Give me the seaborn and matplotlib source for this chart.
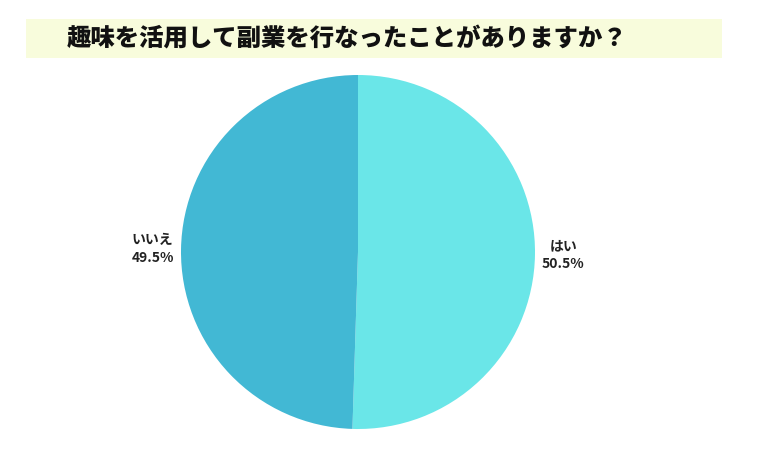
import matplotlib
matplotlib.use("Agg")
import matplotlib.pyplot as plt
import seaborn as sns
from matplotlib.patches import Rectangle

categories = ["はい", "いいえ"]
values = [50.5, 49.5]
colors = ["#6ae6e8", "#42b8d4"]
title = "趣味を活用して副業を行なったことがありますか？"

sns.set_theme(style="white")
plt.rcParams["font.family"] = ["Noto Sans CJK JP", "DejaVu Sans"]

W, H = 766, 457
fig = plt.figure(figsize=(W / 100, H / 100), dpi=100)
fig.patch.set_facecolor("white")

# title box
fig.patches.append(Rectangle((26 / W, 1 - 58 / H), (722 - 26) / W, (58 - 19) / H,
                             transform=fig.transFigure, facecolor="#f8fcdc",
                             edgecolor="none", zorder=0))
fig.text(67 / W, 1 - 39 / H, title, fontsize=17.6, fontweight="heavy",
         color="#111111", ha="left", va="center")

cx, cy, r = 358, 252, 177
ax = fig.add_axes([(cx - r) / W, (H - cy - r) / H, 2 * r / W, 2 * r / H])
labels = [f"{c}\n{v}%" for c, v in zip(categories, values)]
wedges, texts = ax.pie(values, labels=labels, colors=colors, startangle=90,
                       counterclock=False, labeldistance=1.16,
                       textprops=dict(fontsize=10, fontweight="bold",
                                      color="#222222", linespacing=1.4),
                       wedgeprops=dict(linewidth=0))
for t in texts:
    t.set_ha("center")
    t.set_va("center")
ax.set_xlim(-1, 1)
ax.set_ylim(-1, 1)
ax.set_aspect("equal")
ax.axis("off")

fig.savefig("out.png", dpi=100, facecolor="white")
